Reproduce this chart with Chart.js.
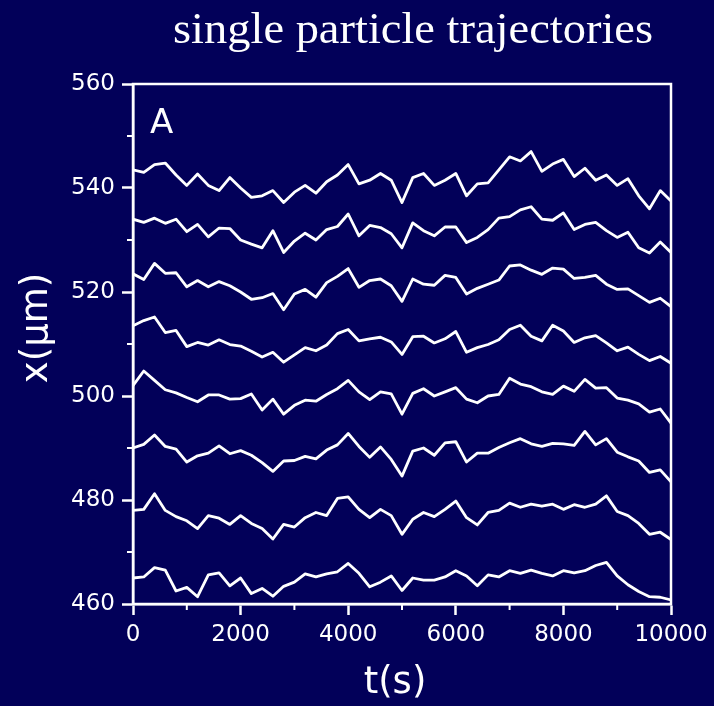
<!DOCTYPE html>
<html lang="en">
<head>
<meta charset="utf-8">
<title>single particle trajectories</title>
<script src="https://cdn.jsdelivr.net/npm/chart.js@4.4.1/dist/chart.umd.min.js"></script>
<style>
    html, body { margin: 0; padding: 0; background: #020059; }
    .chart-box { position: relative; width: 714px; height: 706px; }
</style>
</head>
<body>
<div class="chart-box"><canvas id="trajChart"></canvas></div>
<script>
// Textes
const chartTitle = 'single particle trajectories';
const xAxisTitle = 't(s)';
const yAxisTitle = 'x(\u03bcm)';
const panelLabel = 'A';

// Instants de mesure (s), communs à toutes les trajectoires
const times = [0, 200, 400, 600, 800, 1000, 1200, 1400, 1600, 1800, 2000, 2200, 2400, 2600, 2800,
    3000, 3200, 3400, 3600, 3800, 4000, 4200, 4400, 4600, 4800, 5000, 5200, 5400, 5600, 5800,
    6000, 6200, 6400, 6600, 6800, 7000, 7200, 7400, 7600, 7800, 8000, 8200, 8400, 8600, 8800,
    9000, 9200, 9400, 9600, 9800, 10000];

// Position x (µm) de chaque particule
const trajectory1 = [543.5, 543, 544.5, 544.8, 542.5, 540.5, 542.7, 540.5, 539.5, 542, 540, 538.2, 538.5, 539.5, 537.2,
    539.2, 540.5, 539, 541.2, 542.5, 544.5, 540.8, 541.5, 542.8, 541.5, 537.2, 542, 542.8, 540.5, 541.5,
    542.8, 538.5, 540.8, 541, 543.5, 546, 545.2, 547, 543.2, 544.6, 545.5, 542.2, 543.8, 541.5, 542.5,
    540.5, 541.8, 538.5, 536, 539.5, 537.5];
const trajectory2 = [534, 533.4, 534.2, 533.2, 534, 531.6, 533, 530.6, 532.3, 532.2, 530, 529.2, 528.5, 531.8, 527.6,
    529.8, 531.3, 530, 532, 532.6, 535, 530.8, 532.8, 532.4, 531.2, 528.5, 533.3, 531.8, 530.8, 532.5,
    532.5, 529.5, 530.5, 532, 534.2, 534.5, 535.8, 536.4, 534, 533.8, 535.2, 532, 533, 533.4, 531.8,
    530.5, 531.5, 528.5, 527.5, 529.6, 527.6];
const trajectory3 = [523.5, 522.4, 525.5, 523.6, 523.7, 521, 522.2, 521, 522, 521.2, 520, 518.6, 518.9, 519.7, 516.6,
    519.6, 520.5, 519, 521.8, 523, 524.5, 520.9, 522.2, 522.5, 521.2, 518.2, 522.5, 521.5, 521.3, 523.2,
    522.8, 519.6, 520.7, 521.5, 522.3, 525, 525.2, 524.2, 523.4, 524.6, 524.4, 522.6, 522.8, 523.2, 521.5,
    520.5, 520.6, 519.3, 518, 518.8, 517.2];
const trajectory4 = [513.5, 514.5, 515.2, 512.2, 512.6, 509.5, 510.3, 509.8, 510.8, 509.9, 509.6, 508.6, 507.5, 508.4, 506.5,
    507.9, 509.3, 508.7, 509.8, 512, 512.8, 510.6, 511, 511.3, 510.4, 508, 511.4, 511.5, 510.2, 511,
    512.4, 508.4, 509.3, 509.9, 510.8, 512.8, 513.6, 511.5, 510.6, 513.6, 512.5, 510.3, 511.2, 511.6, 510.2,
    508.7, 509.4, 508, 506.8, 507.6, 506.3];
const trajectory5 = [502, 504.8, 503, 501.2, 500.6, 499.7, 498.9, 500.2, 500.2, 499.4, 499.5, 500.4, 497.3, 499.4, 496.5,
    498.2, 499.2, 499, 500.3, 501.4, 503, 500.8, 499.3, 500.8, 500.4, 496.5, 500.5, 501.4, 500, 500.8,
    501.6, 499.4, 498.7, 500, 500.3, 503.4, 502.3, 501.8, 500.8, 500.3, 501.9, 500.9, 503.2, 501.5, 501.6,
    499.6, 499.2, 498.5, 496.9, 497.5, 494.8];
const trajectory6 = [490, 490.7, 492.5, 490.3, 489.8, 487.3, 488.5, 489, 490.4, 488.9, 489.5, 488.6, 487.2, 485.5, 487.5,
    487.6, 488.4, 487.9, 489.6, 490.6, 492.8, 490.3, 488.2, 490.2, 487.8, 484.6, 489.4, 490, 488.6, 491,
    491.2, 487.3, 489, 489, 490.1, 491, 491.8, 490.8, 490.3, 490.9, 490.8, 490.5, 493.2, 490.6, 491.8,
    489.2, 488.3, 487.5, 485.3, 485.8, 483.5];
const trajectory7 = [478, 478.2, 481.2, 478, 476.8, 476, 474.5, 477, 476.5, 475.3, 477, 475.5, 474.5, 472.5, 475.3,
    474.8, 476.6, 477.6, 477, 480.3, 480.6, 478.2, 476.6, 478.2, 477, 473.4, 476.3, 477.6, 476.8, 478.2,
    479.8, 476.6, 475.2, 477.6, 478, 479.4, 478.6, 479.2, 478.8, 479.2, 478.2, 479.1, 478.6, 479.2, 480.8,
    477.8, 477, 475.5, 473.4, 473.8, 472.4];
const trajectory8 = [465, 465.2, 467, 466.5, 462.5, 463.2, 461.4, 465.6, 466, 463.5, 465, 462, 463, 461.5, 463.4,
    464.2, 465.8, 465.2, 465.8, 466.2, 467.8, 465.9, 463.3, 464.2, 465.4, 462.6, 465, 464.6, 464.6, 465.2,
    466.4, 465.4, 463.5, 465.6, 465.2, 466.4, 465.9, 466.5, 465.9, 465.4, 466.4, 466, 466.4, 467.4, 468,
    465.4, 463.7, 462.4, 461.4, 461.3, 460.8];

// Graduations secondaires
const xMinorTicks = [1000, 3000, 5000, 7000, 9000];
const yMinorTicks = [470, 490, 510, 530, 550];

const trajectories = [trajectory1, trajectory2, trajectory3, trajectory4,
    trajectory5, trajectory6, trajectory7, trajectory8];

const datasets = trajectories.map(values => ({
    data: values.map((v, i) => ({ x: times[i], y: v })),
    borderColor: '#ffffff',
    borderWidth: 2.8,
    borderJoinStyle: 'round',
    pointRadius: 0,
    tension: 0,
    fill: false
}));

const tickFont = { family: '"DejaVu Sans", sans-serif', size: 23 };

// Cadre, petites graduations et textes
const framePlugin = {
    id: 'cadre',
    afterDraw(chart) {
        const { ctx, chartArea: area, scales } = chart;
        ctx.save();
        ctx.strokeStyle = '#ffffff';
        ctx.lineWidth = 2.5;
        ctx.strokeRect(area.left, area.top, area.right - area.left, area.bottom - area.top);

        ctx.lineWidth = 2;
        xMinorTicks.forEach(t => {
            const px = scales.x.getPixelForValue(t);
            ctx.beginPath();
            ctx.moveTo(px, area.bottom);
            ctx.lineTo(px, area.bottom + 6);
            ctx.stroke();
        });
        yMinorTicks.forEach(v => {
            const py = scales.y.getPixelForValue(v);
            ctx.beginPath();
            ctx.moveTo(area.left - 6, py);
            ctx.lineTo(area.left, py);
            ctx.stroke();
        });

        ctx.fillStyle = '#ffffff';
        ctx.font = '34px "DejaVu Sans", sans-serif';
        ctx.textAlign = 'left';
        ctx.textBaseline = 'alphabetic';
        ctx.fillText(panelLabel, area.left + 17, area.top + 49);

        ctx.font = '37px "DejaVu Sans", sans-serif';
        ctx.textAlign = 'center';
        ctx.textBaseline = 'middle';
        ctx.fillText(xAxisTitle, 395, 683);
        ctx.save();
        ctx.translate(37, 328);
        ctx.rotate(-Math.PI / 2);
        ctx.fillText(yAxisTitle, 0, 0);
        ctx.restore();

        ctx.font = '44px "Liberation Serif", serif';
        ctx.textAlign = 'left';
        ctx.textBaseline = 'alphabetic';
        const w = ctx.measureText(chartTitle).width;
        ctx.translate(173, 43);
        ctx.scale(480 / w, 1);
        ctx.fillText(chartTitle, 0, 0);
        ctx.restore();
    }
};

new Chart(document.getElementById('trajChart'), {
    type: 'line',
    data: { datasets: datasets },
    options: {
        responsive: true,
        maintainAspectRatio: false,
        devicePixelRatio: 1,
        animation: false,
        layout: { padding: { top: 84, right: 43, left: 0, bottom: 0 } },
        plugins: {
            legend: { display: false },
            tooltip: { enabled: false }
        },
        scales: {
            x: {
                type: 'linear',
                min: 0,
                max: 10000,
                ticks: {
                    stepSize: 2000, color: '#ffffff', font: tickFont, padding: 6,
                    maxRotation: 0, autoSkip: false,
                    callback: value => String(value)
                },
                grid: { drawOnChartArea: false, tickLength: 11, tickColor: '#ffffff', tickWidth: 2.5 },
                border: { color: '#ffffff', width: 2.5 },
                afterFit: scale => { scale.height = 102; }
            },
            y: {
                type: 'linear',
                min: 460,
                max: 560,
                ticks: { stepSize: 20, color: '#ffffff', font: tickFont, padding: 7 },
                grid: { drawOnChartArea: false, tickLength: 11, tickColor: '#ffffff', tickWidth: 2.5 },
                border: { color: '#ffffff', width: 2.5 },
                afterFit: scale => { scale.width = 133; }
            }
        }
    },
    plugins: [framePlugin]
});
</script>
</body>
</html>
